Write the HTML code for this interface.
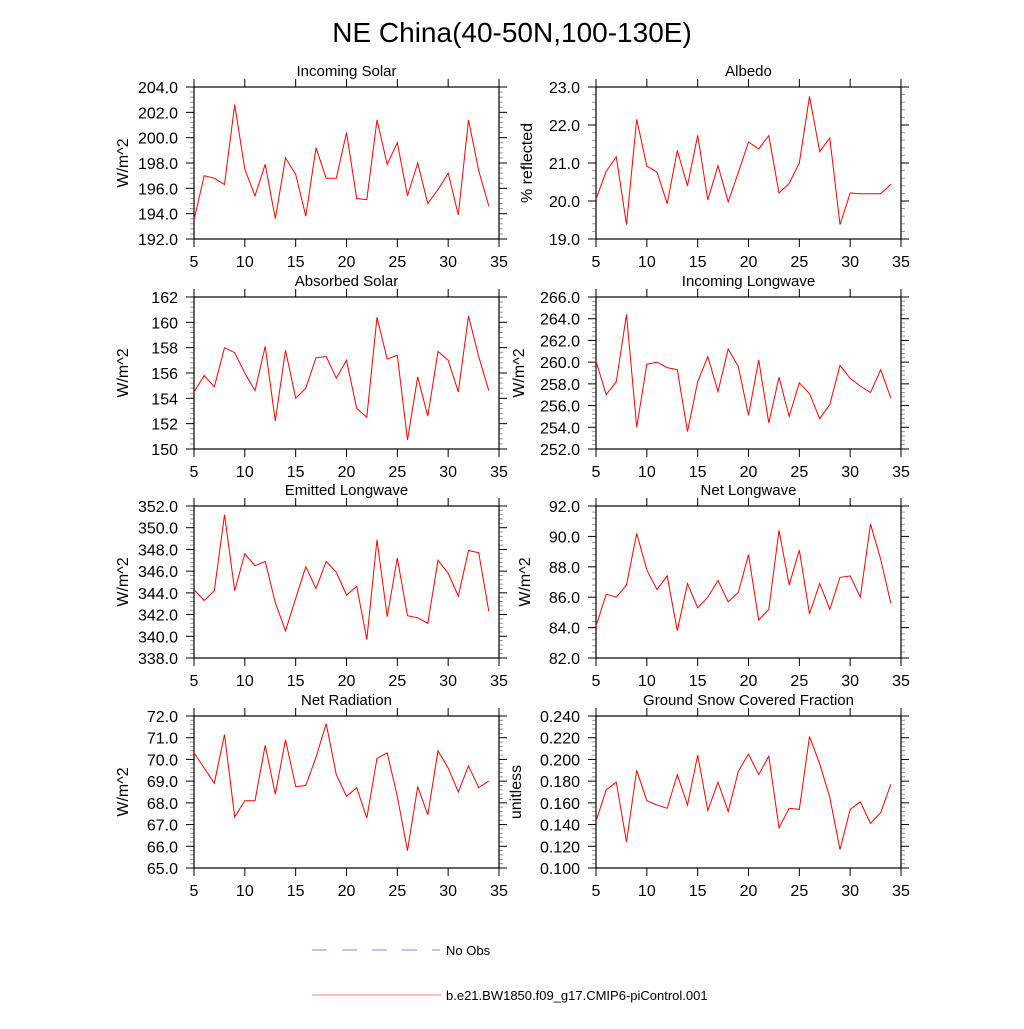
<!DOCTYPE html>
<html><head><meta charset="utf-8"><style>
body{margin:0;background:#fff;}
svg{font-family:"Liberation Sans",sans-serif;}
</style></head><body>
<svg id="c" width="1024" height="1024" viewBox="0 0 1024 1024" xmlns="http://www.w3.org/2000/svg">
<text x="512" y="42" font-size="28" text-anchor="middle">NE China(40-50N,100-130E)</text>
<g>
<line x1="312" y1="950" x2="420" y2="950" stroke="#8080ff" stroke-width="1" stroke-dasharray="15,15"/>
<line x1="432" y1="950" x2="440" y2="950" stroke="#8080ff" stroke-width="1"/>
<text x="446" y="955" font-size="13">No Obs</text>
<line x1="312" y1="995" x2="441" y2="995" stroke="#ff8080" stroke-width="1"/>
<text x="446" y="1000" font-size="13">b.e21.BW1850.f09_g17.CMIP6-piControl.001</text>
</g>
</svg>
<script>
const years = [5,6,7,8,9,10,11,12,13,14,15,16,17,18,19,20,21,22,23,24,25,26,27,28,29,30,31,32,33,34];
const xTicks = [5,10,15,20,25,30,35];
const incomingSolar = [193.5,197.0,196.8,196.3,202.6,197.5,195.4,197.9,193.6,198.4,197.1,193.8,199.2,196.8,196.8,200.4,195.2,195.1,201.4,197.9,199.6,195.4,198.0,194.8,195.9,197.2,193.9,201.4,197.4,194.6];
const albedo = [20.05,20.78,21.16,19.38,22.15,20.92,20.76,19.93,21.33,20.40,21.73,20.03,20.93,19.98,20.75,21.55,21.37,21.72,20.21,20.46,21.0,22.75,21.3,21.66,19.38,20.21,20.19,20.19,20.19,20.44];
const absorbedSolar = [154.5,155.8,154.9,158.0,157.6,156.0,154.6,158.1,152.2,157.8,154.0,154.8,157.2,157.3,155.6,157.0,153.2,152.5,160.4,157.1,157.4,150.7,155.7,152.6,157.7,157.0,154.5,160.5,157.3,154.6];
const incomingLW = [260.1,257.0,258.2,264.4,254.0,259.8,260.0,259.5,259.3,253.6,258.2,260.5,257.3,261.2,259.6,255.1,260.2,254.4,258.6,255.0,258.1,257.1,254.8,256.1,259.7,258.5,257.8,257.2,259.3,256.7];
const emittedLW = [344.3,343.3,344.2,351.2,344.2,347.6,346.5,346.9,343.1,340.5,343.5,346.4,344.4,346.9,345.9,343.8,344.6,339.7,348.9,341.8,347.2,341.9,341.7,341.2,347.0,345.8,343.7,347.9,347.7,342.3];
const netLW = [84.1,86.2,86.0,86.8,90.2,87.8,86.5,87.4,83.8,86.9,85.3,86.0,87.1,85.7,86.3,88.8,84.5,85.2,90.4,86.8,89.1,84.9,86.9,85.2,87.3,87.4,86.0,90.8,88.5,85.6];
const netRad = [70.3,69.6,68.9,71.15,67.35,68.1,68.1,70.65,68.4,70.9,68.75,68.8,70.1,71.65,69.3,68.3,68.7,67.3,70.05,70.3,68.3,65.8,68.75,67.45,70.4,69.6,68.5,69.7,68.7,69.0];
const snowFrac = [0.143,0.172,0.179,0.124,0.190,0.162,0.158,0.155,0.186,0.158,0.204,0.153,0.179,0.152,0.189,0.205,0.186,0.203,0.137,0.155,0.154,0.221,0.196,0.165,0.117,0.154,0.161,0.141,0.151,0.177];
const yTicksIS = [192,194,196,198,200,202,204];
const yTicksAlb = [19,20,21,22,23];
const yTicksAS = [150,152,154,156,158,160,162];
const yTicksILW = [252,254,256,258,260,262,264,266];
const yTicksELW = [338,340,342,344,346,348,350,352];
const yTicksNLW = [82,84,86,88,90,92];
const yTicksNR = [65,66,67,68,69,70,71,72];
const yTicksSnow = [0.10,0.12,0.14,0.16,0.18,0.20,0.22,0.24];

const NS="http://www.w3.org/2000/svg";
const svg=document.getElementById('c');
function mk(t,a,p){const e=document.createElementNS(NS,t);for(const k in a)e.setAttribute(k,a[k]);(p||svg).appendChild(e);return e;}

const panels=[
 {key:'incoming-solar',title:'Incoming Solar',ylab:'W/m^2',vals:incomingSolar,ticks:yTicksIS,dec:1,minor:4,x:194,y:87,lo:66},
 {key:'albedo',title:'Albedo',ylab:'% reflected',vals:albedo,ticks:yTicksAlb,dec:1,minor:4,x:596,y:87,lo:64},
 {key:'absorbed-solar',title:'Absorbed Solar',ylab:'W/m^2',vals:absorbedSolar,ticks:yTicksAS,dec:0,minor:4,x:194,y:297,lo:66},
 {key:'incoming-longwave',title:'Incoming Longwave',ylab:'W/m^2',vals:incomingLW,ticks:yTicksILW,dec:1,minor:4,x:596,y:297,lo:72},
 {key:'emitted-longwave',title:'Emitted Longwave',ylab:'W/m^2',vals:emittedLW,ticks:yTicksELW,dec:1,minor:4,x:194,y:506,lo:66},
 {key:'net-longwave',title:'Net Longwave',ylab:'W/m^2',vals:netLW,ticks:yTicksNLW,dec:1,minor:4,x:596,y:506,lo:66},
 {key:'net-radiation',title:'Net Radiation',ylab:'W/m^2',vals:netRad,ticks:yTicksNR,dec:1,minor:4,x:194,y:716,lo:66},
 {key:'snow-fraction',title:'Ground Snow Covered Fraction',ylab:'unitless',vals:snowFrac,ticks:yTicksSnow,dec:3,minor:4,x:596,y:716,lo:75}
];
const W=305,H=152;
panels.forEach(p=>{
 const g=mk('g',{});
 
 
 const y0=p.ticks[0],y1=p.ticks[p.ticks.length-1];
 const sx=v=>p.x+(v-5)/30*W;
 const sy=v=>p.y+H-(v-y0)/(y1-y0)*H;
 const t=mk('text',{x:p.x+W/2,y:p.y-11,'font-size':15,'text-anchor':'middle'},g);
 t.textContent=p.title;
 
 
 const yl=mk('text',{x:0,y:0,'font-size':16,'text-anchor':'middle',transform:`translate(${p.x-p.lo},${p.y+H/2}) rotate(-90)`},g);
 yl.textContent=p.ylab;
 
 
 for(let i=0;i<p.ticks.length;i++){
  const v=p.ticks[i],yy=sy(v);
  mk('line',{x1:p.x-8,y1:yy,x2:p.x,y2:yy,stroke:'#000'},g);
  mk('line',{x1:p.x+W,y1:yy,x2:p.x+W+8,y2:yy,stroke:'#000'},g);
  const lb=mk('text',{x:p.x-16,y:yy+6,'font-size':16,'text-anchor':'end'},g);
  lb.textContent=v.toFixed(p.dec);
  
  
  if(i<p.ticks.length-1){
   const step=(p.ticks[i+1]-v)/(p.minor+1);
   for(let m=1;m<=p.minor;m++){
    const my=sy(v+step*m);
    mk('line',{x1:p.x-4,y1:my,x2:p.x,y2:my,stroke:'#999'},g);
    mk('line',{x1:p.x+W,y1:my,x2:p.x+W+4,y2:my,stroke:'#999'},g);
   }
  }
 }
 xTicks.forEach(v=>{
  const xx=sx(v);
  mk('line',{x1:xx,y1:p.y-8,x2:xx,y2:p.y,stroke:'#000'},g);
  mk('line',{x1:xx,y1:p.y+H,x2:xx,y2:p.y+H+8,stroke:'#000'},g);
  const lb=mk('text',{x:xx,y:p.y+H+28,'font-size':16,'text-anchor':'middle'},g);
  lb.textContent=v;
  
  
 });
 const fr=mk('rect',{x:p.x,y:p.y,width:W,height:H,fill:'none',stroke:'#000','stroke-width':1.2},g);
 
 
 const pts=p.vals.map((v,i)=>sx(years[i]).toFixed(1)+','+sy(v).toFixed(1)).join(' ');
 const pl=mk('polyline',{points:pts,fill:'none',stroke:'#ff0000','stroke-width':1},g);
 
 
});
</script>
</body></html>
